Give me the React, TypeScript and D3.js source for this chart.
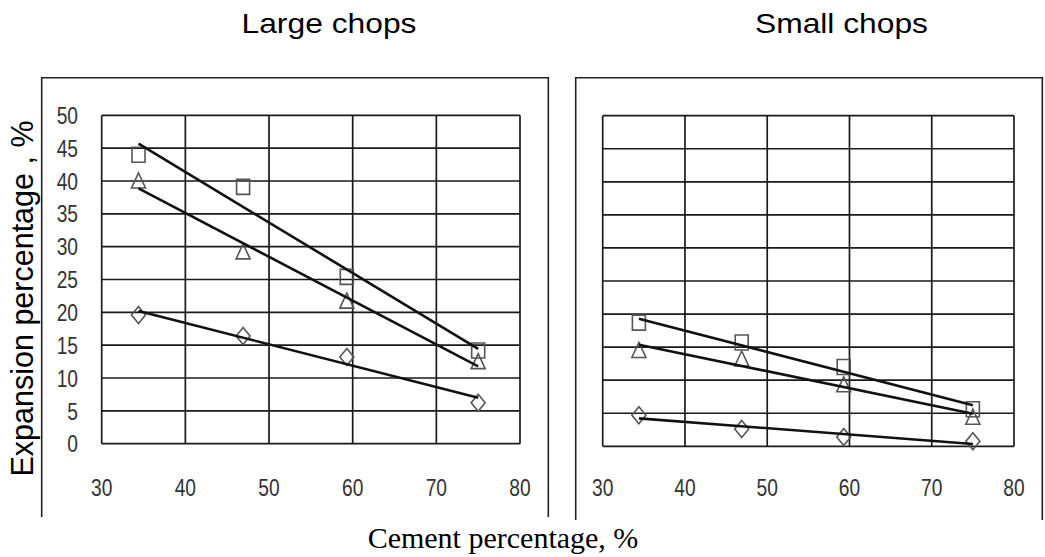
import * as d3 from "d3"

// cement content of the four mixes (x axis)
const cementPct = [34.4, 46.9, 59.3, 75]

// expansion, large chops
const largeSquare = [44, 39.1, 25.4, 14.2]
const largeTriangle = [40, 29.2, 21.7, 12.5]
const largeDiamond = [19.6, 16.4, 13.2, 6.25]

// expansion, small chops
const smallSquare = [18.7, 15.7, 12.0, 5.6]
const smallTriangle = [14.5, 13.2, 9.3, 4.4]
const smallDiamond = [4.7, 2.6, 1.4, 0.75]

const xTicks = [30, 40, 50, 60, 70, 80]
const yTicks = [0, 5, 10, 15, 20, 25, 30, 35, 40, 45, 50]

type Shape = "square" | "triangle" | "diamond"

const markerPath: Record<Shape, string> = {
  square: "M-6.5,-7.5H6.5V7.5H-6.5Z",
  triangle: "M0,-8L7,7H-7Z",
  diamond: "M0,-8.5L7,0L0,8.5L-7,0Z",
}

// least squares fit, the same as the spreadsheet's linear trendline
function fit(xs: number[], ys: number[]) {
  const mx = d3.mean(xs) as number
  const my = d3.mean(ys) as number
  let sxy = 0
  let sxx = 0
  xs.forEach((x, i) => {
    sxy += (x - mx) * (ys[i] - my)
    sxx += (x - mx) * (x - mx)
  })
  const slope = sxy / sxx
  return (x: number) => my + slope * (x - mx)
}

// the tick labels are a narrow face, squeeze a regular sans instead
const tickFont = "'Liberation Sans', Arial, sans-serif"
const squeeze = 0.8

interface PanelProps {
  frame: [number, number, number, number]
  xRange: [number, number]
  yRange: [number, number]
  series: { shape: Shape; values: number[] }[]
  showY: boolean
}

function Panel({ frame, xRange, yRange, series, showY }: PanelProps) {
  const x = d3.scaleLinear().domain([30, 80]).range(xRange)
  const y = d3.scaleLinear().domain([0, 50]).range(yRange)
  const [fl, ft, fr, fb] = frame

  return (
    <g>
      {/* outer chart frame, open at the bottom */}
      <path d={`M${fl},${fb}V${ft}H${fr}V${fb}`} fill="none" stroke="#222" strokeWidth={1.6} />

      {/* grid */}
      {xTicks.map((t) => (
        <line key={"vx" + t} x1={x(t)} x2={x(t)} y1={y(0)} y2={y(50)} stroke="#1a1a1a" strokeWidth={1.7} />
      ))}
      {yTicks.map((t) => (
        <line key={"hy" + t} x1={x(30)} x2={x(80)} y1={y(t)} y2={y(t)} stroke="#1a1a1a" strokeWidth={1.7} />
      ))}

      {/* tick labels */}
      {xTicks.map((t) => (
        <text
          key={"xl" + t}
          transform={`translate(${x(t)},496) scale(${squeeze},1)`}
          textAnchor="middle"
          fontFamily={tickFont}
          fontSize={24}
          fill="#333"
        >
          {t}
        </text>
      ))}
      {showY &&
        yTicks.map((t) => (
          <text
            key={"yl" + t}
            transform={`translate(78,${y(t)}) scale(${squeeze},1)`}
            dy="0.36em"
            textAnchor="end"
            fontFamily={tickFont}
            fontSize={24}
            fill="#333"
          >
            {t}
          </text>
        ))}

      {/* markers */}
      {series.map((s) =>
        s.values.map((v, i) => (
          <path
            key={s.shape + i}
            d={markerPath[s.shape]}
            transform={`translate(${x(cementPct[i])},${y(v)})`}
            fill="none"
            stroke="#555"
            strokeWidth={1.6}
          />
        ))
      )}

      {/* linear trendlines */}
      {series.map((s) => {
        const f = fit(cementPct, s.values)
        const ends = d3.extent(cementPct) as [number, number]
        const d = d3
          .line<number>()
          .x((e) => x(e))
          .y((e) => y(f(e)))(ends)
        return <path key={"t" + s.shape} d={d ?? ""} fill="none" stroke="#111" strokeWidth={2.6} />
      })}
    </g>
  )
}

export default function App() {
  return (
    <svg
      width={1045}
      height={557}
      style={{ position: "absolute", left: 0, top: 0, background: "#fff" }}
      fontFamily="'Liberation Sans', Arial, sans-serif"
    >
      <rect width={1045} height={557} fill="#fff" />

      <text x={329} y={33} textAnchor="middle" fontSize={28} textLength={175} lengthAdjust="spacingAndGlyphs">
        Large chops
      </text>
      <text x={841.5} y={33} textAnchor="middle" fontSize={28} textLength={173} lengthAdjust="spacingAndGlyphs">
        Small chops
      </text>

      <Panel
        frame={[41.7, 77.7, 548.3, 517]}
        xRange={[101.7, 520]}
        yRange={[443.7, 115.3]}
        showY
        series={[
          { shape: "square", values: largeSquare },
          { shape: "triangle", values: largeTriangle },
          { shape: "diamond", values: largeDiamond },
        ]}
      />
      <Panel
        frame={[575.7, 77.7, 1042.3, 520]}
        xRange={[602.7, 1014]}
        yRange={[446.3, 115.7]}
        showY={false}
        series={[
          { shape: "square", values: smallSquare },
          { shape: "triangle", values: smallTriangle },
          { shape: "diamond", values: smallDiamond },
        ]}
      />

      <text transform="translate(33,298.5) rotate(-90)" textAnchor="middle" fontSize={30.5}>
        Expansion percentage , %
      </text>
      <text x={503} y={548} textAnchor="middle" fontSize={30} fontFamily="'Liberation Serif', 'Times New Roman', serif">
        Cement percentage, %
      </text>
    </svg>
  )
}
